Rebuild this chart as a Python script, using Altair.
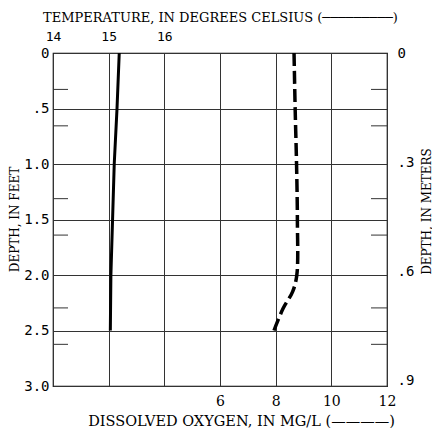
import altair as alt
import pandas as pd

# ---- data ----
depth_temp_ft = [0.0, 0.5, 1.0, 1.5, 2.0, 2.5]
temperature_c = [15.19, 15.15, 15.10, 15.07, 15.04, 15.03]

depth_do_ft = [0.0, 0.5, 1.0, 1.5, 2.0, 2.15, 2.3, 2.5]
dissolved_oxygen = [8.66, 8.70, 8.75, 8.78, 8.76, 8.61, 8.27, 7.94]

feet_ticks = [0, 0.5, 1.0, 1.5, 2.0, 2.5, 3.0]
do_ticks = [0, 2, 4, 6, 8, 10, 12]
temp_ticks = [14, 15, 16]
meter_labels = [0, 0.3, 0.6, 0.9]
meter_minor = [0.1, 0.2, 0.4, 0.5, 0.7, 0.8]

FEET_MAX = 3.0
METERS_MAX = FEET_MAX * 0.3048

W, H = 334, 333
NB = "\u00a0"

feet_scale = alt.Scale(domain=[0, FEET_MAX], reverse=True, nice=False, zero=False)
meter_scale = alt.Scale(domain=[0, METERS_MAX], reverse=True, nice=False, zero=False)

do_df = pd.DataFrame({"depth": depth_do_ft, "do": dissolved_oxygen})
temp_df = pd.DataFrame({"depth": depth_temp_ft, "temp": temperature_c})
minor_df = pd.DataFrame({"m": meter_minor})

oxy = alt.Chart(do_df).mark_line(
    color="black", strokeWidth=3.5, strokeDash=[13, 5], interpolate="catmull-rom"
).encode(
    x=alt.X("do:Q", scale=alt.Scale(domain=[0, 12], nice=False, zero=False),
            axis=alt.Axis(orient="bottom", values=do_ticks,
                          labelExpr="datum.value >= 6 ? datum.label : ''",
                          grid=True, gridColor="#333", gridWidth=1,
                          ticks=False, domain=False, labelFlush=False,
                          labelFont="DejaVu Serif", labelFontSize=14, labelPadding=8,
                          title="DISSOLVED OXYGEN, IN MG/L (————)",
                          titleFontSize=14.5,
                          titleX=188, titleY=35, titleBaseline="middle")),
    y=alt.Y("depth:Q", scale=feet_scale,
            axis=alt.Axis(orient="left", values=feet_ticks,
                          labelExpr=("datum.value == 0 ? '0" + NB + NB + "' : "
                                     "(datum.value < 1 ? '.5' : format(datum.value, '.1f'))"),
                          grid=True, gridColor="#333", gridWidth=1,
                          ticks=False, domain=False, labelPadding=4,
                          title="DEPTH, IN FEET", titleAngle=270,
                          titleX=-39, titleY=166, titleBaseline="middle")),
    order=alt.Order("depth:Q"),
)

temp = alt.Chart(temp_df).mark_line(
    color="black", strokeWidth=3, interpolate="linear"
).encode(
    x=alt.X("temp:Q", scale=alt.Scale(domain=[14, 20], nice=False, zero=False),
            axis=alt.Axis(orient="top", values=temp_ticks, grid=False, labelFlush=False,
                          ticks=False, domain=False, labelFontSize=13, labelPadding=10,
                          title="TEMPERATURE, IN DEGREES CELSIUS (─────────)",
                          titleFontSize=13,
                          titleY=-36, titleBaseline="middle")),
    y=alt.Y("depth:Q", scale=feet_scale, axis=None),
    order=alt.Order("depth:Q"),
)

ticks_right = alt.Chart(minor_df).mark_rule(color="#333", strokeWidth=1).encode(
    y=alt.Y("m:Q", scale=meter_scale,
            axis=alt.Axis(orient="right", values=meter_labels,
                          labelExpr="datum.value == 0 ? '0' : '.' + round(datum.value * 10)",
                          grid=False, ticks=False, domain=False, labelPadding=10,
                          labelAlign="left",
                          title="DEPTH, IN METERS", titleAngle=270,
                          titleX=39, titleY=158, titleBaseline="middle")),
    x=alt.value(W - 16),
    x2=alt.value(W),
)

ticks_left = alt.Chart(minor_df).mark_rule(color="#333", strokeWidth=1).encode(
    y=alt.Y("m:Q", scale=meter_scale, axis=None),
    x=alt.value(0),
    x2=alt.value(15),
)

chart = alt.layer(oxy, temp, ticks_left, ticks_right).resolve_scale(
    x="independent", y="independent"
).properties(
    width=W, height=H,
    autosize=alt.AutoSizeParams(type="none"),
    padding={"left": 45, "top": 45, "right": 45, "bottom": 42},
    background="white",
).configure_view(
    stroke="black", strokeWidth=1.2
).configure_axis(
    labelFont="DejaVu Sans Mono", labelFontSize=14, labelColor="black",
    titleFont="DejaVu Serif", titleFontSize=12, titleFontWeight="normal",
    titleColor="black",
)

chart.save("out.html", embed_options={"renderer": "svg", "actions": False})
